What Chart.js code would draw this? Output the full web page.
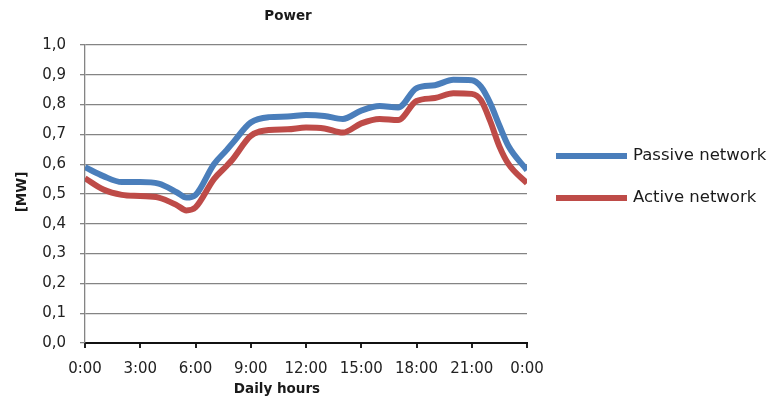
<!DOCTYPE html>
<html>
<head>
<meta charset="utf-8">
<script src="https://cdn.jsdelivr.net/npm/chart.js@4/dist/chart.umd.min.js"></script>
<style>
  body { margin: 0; background: #fff; }
</style>
</head>
<body>
<canvas id="power" width="770" height="401"></canvas>
<script>
// hours of the day
const hours = [0, 1, 2, 3, 4, 5, 5.5, 6, 7, 7.7, 8, 9, 10, 11, 12, 13, 14, 15, 16, 17, 18, 19, 20, 21, 21.5, 22, 22.5, 23, 24];
const passive = [0.59, 0.56, 0.54, 0.54, 0.535, 0.505, 0.488, 0.497, 0.60, 0.648, 0.67, 0.74, 0.758, 0.76, 0.765, 0.762, 0.752, 0.78, 0.795, 0.79, 0.855, 0.865, 0.883, 0.882, 0.86, 0.805, 0.73, 0.66, 0.58];
const active = [0.553, 0.515, 0.497, 0.493, 0.488, 0.462, 0.445, 0.455, 0.55, 0.595, 0.615, 0.695, 0.715, 0.717, 0.723, 0.72, 0.706, 0.737, 0.752, 0.748, 0.812, 0.822, 0.838, 0.836, 0.815, 0.745, 0.66, 0.60, 0.536];
const seriesNames = ['Passive network', 'Active network'];
const chartTitle = 'Power';
const xTitle = 'Daily hours';
const yTitle = '[MW]';

const toPoints = vals => vals.map((v, i) => ({ x: hours[i], y: v }));

// titles + legend drawn by hand, placed like the original sheet
const extraText = {
    id: 'extraText',
    afterDraw(chart) {
        const ctx = chart.ctx;
        ctx.save();
        ctx.fillStyle = '#1a1a1a';
        ctx.textBaseline = 'middle';
        ctx.textAlign = 'center';
        ctx.font = 'bold 13.5px "DejaVu Sans"';
        ctx.fillText(chartTitle, 288, 16);
        ctx.fillText(xTitle, 277, 389);
        ctx.save();
        ctx.translate(22, 192);
        ctx.rotate(-Math.PI / 2);
        ctx.fillText(yTitle, 0, 0);
        ctx.restore();

        ctx.textAlign = 'left';
        ctx.font = '16.5px "DejaVu Sans"';
        chart.data.datasets.forEach((ds, i) => {
            const y = 156 + i * 42;
            ctx.strokeStyle = ds.borderColor;
            ctx.lineWidth = ds.borderWidth;
            ctx.beginPath();
            ctx.moveTo(556, y);
            ctx.lineTo(627, y);
            ctx.stroke();
            ctx.fillText(ds.label, 633, y);
        });
        ctx.restore();
    }
};

const ctx = document.getElementById('power').getContext('2d');
new Chart(ctx, {
    type: 'line',
    data: {
        datasets: [
            { label: seriesNames[0], data: toPoints(passive), borderColor: '#4a7ebb' },
            { label: seriesNames[1], data: toPoints(active), borderColor: '#be4b48' },
        ].map(ds => ({
            ...ds,
            borderWidth: 6,
            pointRadius: 0,
            fill: false,
            tension: 0.4,
            cubicInterpolationMode: 'monotone'
        }))
    },
    options: {
        responsive: false,
        animation: false,
        layout: { padding: { left: 0, right: 243, top: 45, bottom: 0 } },
        plugins: {
            legend: { display: false },
            title: { display: false },
            tooltip: { enabled: false }
        },
        scales: {
            x: {
                type: 'linear',
                min: 0,
                max: 24,
                afterFit(scale) { scale.height = 58; },
                ticks: {
                    stepSize: 3,
                    padding: 12,
                    color: '#222',
                    font: { family: 'DejaVu Sans', size: 15 },
                    maxRotation: 0,
                    callback: v => (v % 24) + ':00'
                },
                grid: { drawOnChartArea: false, tickLength: 5, color: '#222', lineWidth: 2 },
                border: { color: '#111', width: 2 }
            },
            y: {
                min: 0,
                max: 1,
                afterFit(scale) { scale.width = 85; },
                ticks: {
                    stepSize: 0.1,
                    padding: 14,
                    color: '#222',
                    font: { family: 'DejaVu Sans', size: 15 },
                    callback: v => v.toFixed(1).replace('.', ',')
                },
                grid: { color: '#848484', lineWidth: 1.3, tickLength: 5 },
                border: { color: '#848484', width: 1.3 }
            }
        }
    },
    plugins: [extraText]
});
</script>
</body>
</html>
